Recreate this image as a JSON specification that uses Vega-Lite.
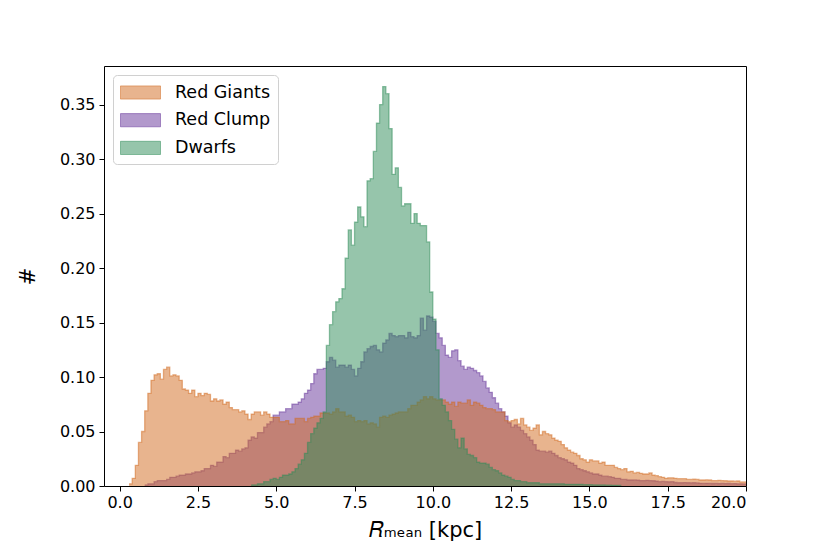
{
  "$schema": "https://vega.github.io/schema/vega-lite/v6.json",
  "autosize": {"type": "none"},
  "width": 642,
  "height": 420,
  "padding": {"left": 104, "top": 66, "right": 84, "bottom": 68},
  "background": "white",
  "config": {
    "view": {"stroke": "black", "strokeWidth": 1},
    "axis": {
      "labelFont": "DejaVu Sans", "labelFontSize": 16, "labelColor": "black",
      "tickColor": "black", "tickSize": 5, "tickWidth": 1, "domain": false, "grid": false,
      "titleFont": "DejaVu Sans", "titleFontWeight": "normal", "titleColor": "black", "titleFontSize": 21
    },
    "legend": {
      "orient": "top-left", "offset": 9, "padding": 7, "cornerRadius": 4,
      "strokeColor": "#d0d0d0", "fillColor": "rgba(255,255,255,0.8)",
      "labelFont": "DejaVu Sans", "labelFontSize": 17.5, "labelColor": "black",
      "labelOffset": 24, "rowPadding": 7.7, "symbolOffset": 10,
      "symbolType": "M-2,-0.66H2V0.66H-2Z", "symbolSize": 400, "symbolStrokeWidth": 1
    }
  },
  "data": {"values": [
    {"x":0.3,"rg":0.002},{"x":0.4,"rg":0.007},{"x":0.5,"rg":0.019},{"x":0.6,"rg":0.040},{"x":0.7,"rg":0.050},
    {"x":0.8,"rg":0.069,"rc":0.001},{"x":0.9,"rg":0.085,"rc":0.002},{"x":1.0,"rg":0.097,"rc":0.002},{"x":1.1,"rg":0.102,"rc":0.004},{"x":1.2,"rg":0.103,"rc":0.005},
    {"x":1.3,"rg":0.098,"rc":0.005},{"x":1.4,"rg":0.107,"rc":0.005},{"x":1.5,"rg":0.109,"rc":0.006},{"x":1.6,"rg":0.101,"rc":0.008},{"x":1.7,"rg":0.102,"rc":0.008},
    {"x":1.8,"rg":0.101,"rc":0.009},{"x":1.9,"rg":0.097,"rc":0.010},{"x":2.0,"rg":0.089,"rc":0.010},{"x":2.1,"rg":0.088,"rc":0.011},{"x":2.2,"rg":0.085,"rc":0.011},
    {"x":2.3,"rg":0.088,"rc":0.012},{"x":2.4,"rg":0.082,"rc":0.013},{"x":2.5,"rg":0.085,"rc":0.013},{"x":2.6,"rg":0.083,"rc":0.014},{"x":2.7,"rg":0.085,"rc":0.016},
    {"x":2.8,"rg":0.084,"rc":0.016},{"x":2.9,"rg":0.078,"rc":0.019},{"x":3.0,"rg":0.080,"rc":0.018},{"x":3.1,"rg":0.078,"rc":0.022},{"x":3.2,"rg":0.079,"rc":0.022},
    {"x":3.3,"rg":0.075,"rc":0.027},{"x":3.4,"rg":0.077,"rc":0.026},{"x":3.5,"rg":0.072,"rc":0.030},{"x":3.6,"rg":0.070,"rc":0.030},{"x":3.7,"rg":0.070,"rc":0.033},
    {"x":3.8,"rg":0.068,"rc":0.032},{"x":3.9,"rg":0.069,"rc":0.034},{"x":4.0,"rg":0.066,"rc":0.035},{"x":4.1,"rg":0.061,"rc":0.042},
    {"x":4.2,"rg":0.066,"rc":0.045,"dw":0.001},{"x":4.3,"rg":0.068,"rc":0.044,"dw":0.001},{"x":4.4,"rg":0.068,"rc":0.049,"dw":0.002},{"x":4.5,"rg":0.065,"rc":0.049,"dw":0.002},
    {"x":4.6,"rg":0.068,"rc":0.054,"dw":0.004},{"x":4.7,"rg":0.066,"rc":0.057,"dw":0.004},{"x":4.8,"rg":0.063,"rc":0.059,"dw":0.006},{"x":4.9,"rg":0.063,"rc":0.065,"dw":0.007},
    {"x":5.0,"rg":0.063,"rc":0.065,"dw":0.006},{"x":5.1,"rg":0.059,"rc":0.068,"dw":0.008},{"x":5.2,"rg":0.059,"rc":0.068,"dw":0.010},{"x":5.3,"rg":0.060,"rc":0.071,"dw":0.010},
    {"x":5.4,"rg":0.057,"rc":0.071,"dw":0.011},{"x":5.5,"rg":0.057,"rc":0.075,"dw":0.013},{"x":5.6,"rg":0.062,"rc":0.075,"dw":0.016},{"x":5.7,"rg":0.062,"rc":0.077,"dw":0.020},
    {"x":5.8,"rg":0.062,"rc":0.080,"dw":0.024},{"x":5.9,"rg":0.059,"rc":0.085,"dw":0.030},{"x":6.0,"rg":0.062,"rc":0.088,"dw":0.040},{"x":6.1,"rg":0.063,"rc":0.094,"dw":0.048},
    {"x":6.2,"rg":0.064,"rc":0.103,"dw":0.053},{"x":6.3,"rg":0.064,"rc":0.107,"dw":0.058},{"x":6.4,"rg":0.067,"rc":0.107,"dw":0.062},{"x":6.5,"rg":0.067,"rc":0.108,"dw":0.068},
    {"x":6.6,"rg":0.067,"rc":0.114,"dw":0.129},{"x":6.7,"rg":0.066,"rc":0.118,"dw":0.148},{"x":6.8,"rg":0.068,"rc":0.1155,"dw":0.160},{"x":6.9,"rg":0.071,"rc":0.109,"dw":0.169},
    {"x":7.0,"rg":0.068,"rc":0.111,"dw":0.172},{"x":7.1,"rg":0.068,"rc":0.111,"dw":0.181},{"x":7.2,"rg":0.064,"rc":0.109,"dw":0.209},{"x":7.3,"rg":0.065,"rc":0.111,"dw":0.235},
    {"x":7.4,"rg":0.063,"rc":0.107,"dw":0.221},{"x":7.5,"rg":0.059,"rc":0.101,"dw":0.242},{"x":7.6,"rg":0.060,"rc":0.108,"dw":0.256},{"x":7.7,"rg":0.059,"rc":0.114,"dw":0.247},
    {"x":7.8,"rg":0.060,"rc":0.123,"dw":0.238},{"x":7.9,"rg":0.057,"rc":0.126,"dw":0.280},{"x":8.0,"rg":0.058,"rc":0.128,"dw":0.282},{"x":8.1,"rg":0.057,"rc":0.129,"dw":0.307},
    {"x":8.2,"rg":0.054,"rc":0.125,"dw":0.333},{"x":8.3,"rg":0.063,"rc":0.123,"dw":0.350},{"x":8.4,"rg":0.064,"rc":0.131,"dw":0.3665},{"x":8.5,"rg":0.063,"rc":0.134,"dw":0.360},
    {"x":8.6,"rg":0.065,"rc":0.140,"dw":0.328},{"x":8.7,"rg":0.066,"rc":0.138,"dw":0.286},{"x":8.8,"rg":0.067,"rc":0.137,"dw":0.292},{"x":8.9,"rg":0.068,"rc":0.138,"dw":0.274},
    {"x":9.0,"rg":0.068,"rc":0.138,"dw":0.257},{"x":9.1,"rg":0.068,"rc":0.136,"dw":0.259},{"x":9.2,"rg":0.071,"rc":0.141,"dw":0.259},{"x":9.3,"rg":0.074,"rc":0.137,"dw":0.241},
    {"x":9.4,"rg":0.074,"rc":0.136,"dw":0.250},{"x":9.5,"rg":0.077,"rc":0.138,"dw":0.241},{"x":9.6,"rg":0.079,"rc":0.154,"dw":0.239},{"x":9.7,"rg":0.082,"rc":0.143,"dw":0.239},
    {"x":9.8,"rg":0.080,"rc":0.156,"dw":0.224},{"x":9.9,"rg":0.082,"rc":0.155,"dw":0.178},{"x":10.0,"rg":0.080,"rc":0.151,"dw":0.153},{"x":10.1,"rg":0.079,"rc":0.140,"dw":0.125},
    {"x":10.2,"rg":0.079,"rc":0.136,"dw":0.080},{"x":10.3,"rg":0.079,"rc":0.129,"dw":0.074},{"x":10.4,"rg":0.077,"rc":0.120,"dw":0.068},{"x":10.5,"rg":0.075,"rc":0.118,"dw":0.060},
    {"x":10.6,"rg":0.077,"rc":0.124,"dw":0.052},{"x":10.7,"rg":0.073,"rc":0.125,"dw":0.043},{"x":10.8,"rg":0.077,"rc":0.115,"dw":0.035},{"x":10.9,"rg":0.076,"rc":0.110,"dw":0.044},
    {"x":11.0,"rg":0.076,"rc":0.107,"dw":0.034},{"x":11.1,"rg":0.079,"rc":0.109,"dw":0.029},{"x":11.2,"rg":0.074,"rc":0.108,"dw":0.028},{"x":11.3,"rg":0.077,"rc":0.106,"dw":0.026},
    {"x":11.4,"rg":0.076,"rc":0.104,"dw":0.022},{"x":11.5,"rg":0.074,"rc":0.101,"dw":0.021},{"x":11.6,"rg":0.072,"rc":0.096,"dw":0.021},{"x":11.7,"rg":0.071,"rc":0.090,"dw":0.020},
    {"x":11.8,"rg":0.071,"rc":0.086,"dw":0.017},{"x":11.9,"rg":0.070,"rc":0.081,"dw":0.015},{"x":12.0,"rg":0.068,"rc":0.076,"dw":0.014},{"x":12.1,"rg":0.068,"rc":0.071,"dw":0.012},
    {"x":12.2,"rg":0.068,"rc":0.068,"dw":0.010},{"x":12.3,"rg":0.060,"rc":0.064,"dw":0.009},{"x":12.4,"rg":0.059,"rc":0.058,"dw":0.008},{"x":12.5,"rg":0.060,"rc":0.054,"dw":0.006},
    {"x":12.6,"rg":0.061,"rc":0.056,"dw":0.005},{"x":12.7,"rg":0.057,"rc":0.054,"dw":0.005},{"x":12.8,"rg":0.062,"rc":0.051,"dw":0.004},{"x":12.9,"rg":0.056,"rc":0.048,"dw":0.004},
    {"x":13.0,"rg":0.054,"rc":0.045,"dw":0.003},{"x":13.1,"rg":0.051,"rc":0.042,"dw":0.003},{"x":13.2,"rg":0.053,"rc":0.038,"dw":0.003},{"x":13.3,"rg":0.056,"rc":0.033,"dw":0.003},
    {"x":13.4,"rg":0.047,"rc":0.032,"dw":0.002},{"x":13.5,"rg":0.050,"rc":0.032,"dw":0.002},{"x":13.6,"rg":0.048,"rc":0.031,"dw":0.002},{"x":13.7,"rg":0.047,"rc":0.032,"dw":0.002},
    {"x":13.8,"rg":0.044,"rc":0.030,"dw":0.002},{"x":13.9,"rg":0.042,"rc":0.028,"dw":0.002},{"x":14.0,"rg":0.041,"rc":0.026,"dw":0.002},{"x":14.1,"rg":0.038,"rc":0.025,"dw":0.002},
    {"x":14.2,"rg":0.035,"rc":0.024,"dw":0.0015},{"x":14.3,"rg":0.033,"rc":0.022,"dw":0.0015},{"x":14.4,"rg":0.031,"rc":0.021,"dw":0.0015},{"x":14.5,"rg":0.030,"rc":0.019,"dw":0.0015},
    {"x":14.6,"rg":0.028,"rc":0.016,"dw":0.0015},{"x":14.7,"rg":0.025,"rc":0.015,"dw":0.0015},{"x":14.8,"rg":0.024,"rc":0.014,"dw":0.0012},{"x":14.9,"rg":0.022,"rc":0.013,"dw":0.0012},
    {"x":15.0,"rg":0.024,"rc":0.012,"dw":0.0012},{"x":15.1,"rg":0.023,"rc":0.011,"dw":0.001},{"x":15.2,"rg":0.023,"rc":0.011,"dw":0.001},{"x":15.3,"rg":0.021,"rc":0.010,"dw":0.001},
    {"x":15.4,"rg":0.022,"rc":0.009,"dw":0.001},{"x":15.5,"rg":0.019,"rc":0.009,"dw":0.0008},{"x":15.6,"rg":0.019,"rc":0.0086,"dw":0.0008},{"x":15.7,"rg":0.019,"rc":0.008,"dw":0.0006},
    {"x":15.8,"rg":0.017,"rc":0.007,"dw":0.0006},{"x":15.9,"rg":0.016,"rc":0.007,"dw":0.0005},{"x":16.0,"rg":0.015,"rc":0.006,"dw":0},
    {"x":16.1,"rg":0.016,"rc":0.006},{"x":16.2,"rg":0.013,"rc":0.0055},{"x":16.3,"rg":0.0135,"rc":0.0055},{"x":16.4,"rg":0.012,"rc":0.0056},{"x":16.5,"rg":0.0125,"rc":0.0054},
    {"x":16.6,"rg":0.0116,"rc":0.005},{"x":16.7,"rg":0.011,"rc":0.005},{"x":16.8,"rg":0.011,"rc":0.0052},{"x":16.9,"rg":0.012,"rc":0.005},{"x":17.0,"rg":0.010,"rc":0.0048},
    {"x":17.1,"rg":0.0095,"rc":0.0045},{"x":17.2,"rg":0.0086,"rc":0.004},{"x":17.3,"rg":0.008,"rc":0.0042},{"x":17.4,"rg":0.007,"rc":0.004},{"x":17.5,"rg":0.0075,"rc":0.0038},
    {"x":17.6,"rg":0.0075,"rc":0.004},{"x":17.7,"rg":0.007,"rc":0.0032},{"x":17.8,"rg":0.0067,"rc":0.003},{"x":17.9,"rg":0.0067,"rc":0.003},{"x":18.0,"rg":0.0067,"rc":0.0031},
    {"x":18.1,"rg":0.006,"rc":0.003},{"x":18.2,"rg":0.006,"rc":0.0029},{"x":18.3,"rg":0.0062,"rc":0.003},{"x":18.4,"rg":0.006,"rc":0.0028},{"x":18.5,"rg":0.0055,"rc":0.0025},
    {"x":18.6,"rg":0.0055,"rc":0.0024},{"x":18.7,"rg":0.0057,"rc":0.0025},{"x":18.8,"rg":0.0055,"rc":0.0024},{"x":18.9,"rg":0.005,"rc":0.0023},{"x":19.0,"rg":0.005,"rc":0.0024},
    {"x":19.1,"rg":0.0052,"rc":0.0022},{"x":19.2,"rg":0.005,"rc":0.0024},{"x":19.3,"rg":0.0048,"rc":0.0022},{"x":19.4,"rg":0.0046,"rc":0.0023},{"x":19.5,"rg":0.0046,"rc":0.0021},
    {"x":19.6,"rg":0.0044,"rc":0.0022},{"x":19.7,"rg":0.0046,"rc":0.002},{"x":19.8,"rg":0.0037,"rc":0.002},{"x":19.9,"rg":0.0037,"rc":0.0019},{"x":20.0,"rg":0.0037,"rc":0.0019}
  ]},
  "layer": [
    {
      "mark": {"type": "area", "interpolate": "step-after", "fillOpacity": 0.5, "clip": true,
               "line": {"strokeWidth": 1.3, "strokeOpacity": 0.5}},
      "encoding": {
        "x": {"field": "x", "type": "quantitative", "scale": {"domain": [-0.5, 20], "nice": false, "zero": false},
              "title": "𝑅ₘₑₐₙ [kpc]",
              "axis": {"values": [0, 2.5, 5, 7.5, 10, 12.5, 15, 17.5, 20], "format": ".1f", "labelPadding": 3, "titlePadding": 9}},
        "y": {"field": "rc", "type": "quantitative", "scale": {"domain": [0, 0.3854], "nice": false}, "title": "#",
              "axis": {"values": [0, 0.05, 0.1, 0.15, 0.2, 0.25, 0.3, 0.35], "format": ".2f", "labelPadding": 4, "titlePadding": 21}},
        "color": {"datum": "Red Clump", "type": "nominal",
                  "scale": {"domain": ["Red Giants", "Red Clump", "Dwarfs"], "range": ["#D2691E", "#663399", "#2E8B57"]},
                  "legend": {"title": null,
                             "encode": {"symbols": {"update": {
                               "fill": {"scale": "color", "field": "value"},
                               "stroke": {"scale": "color", "field": "value"},
                               "fillOpacity": {"value": 0.5}, "strokeOpacity": {"value": 0.5}, "opacity": {"value": 1}}}}}}
      }
    },
    {
      "mark": {"type": "area", "interpolate": "step-after", "fillOpacity": 0.5, "clip": true,
               "line": {"strokeWidth": 1.3, "strokeOpacity": 0.5}},
      "encoding": {
        "x": {"field": "x", "type": "quantitative", "title": "𝑅ₘₑₐₙ [kpc]"},
        "y": {"field": "rg", "type": "quantitative", "title": "#"},
        "color": {"datum": "Red Giants", "type": "nominal"}
      }
    },
    {
      "mark": {"type": "area", "interpolate": "step-after", "fillOpacity": 0.5, "clip": true,
               "line": {"strokeWidth": 1.3, "strokeOpacity": 0.5}},
      "encoding": {
        "x": {"field": "x", "type": "quantitative", "title": "𝑅ₘₑₐₙ [kpc]"},
        "y": {"field": "dw", "type": "quantitative", "title": "#"},
        "color": {"datum": "Dwarfs", "type": "nominal"}
      }
    }
  ]
}
